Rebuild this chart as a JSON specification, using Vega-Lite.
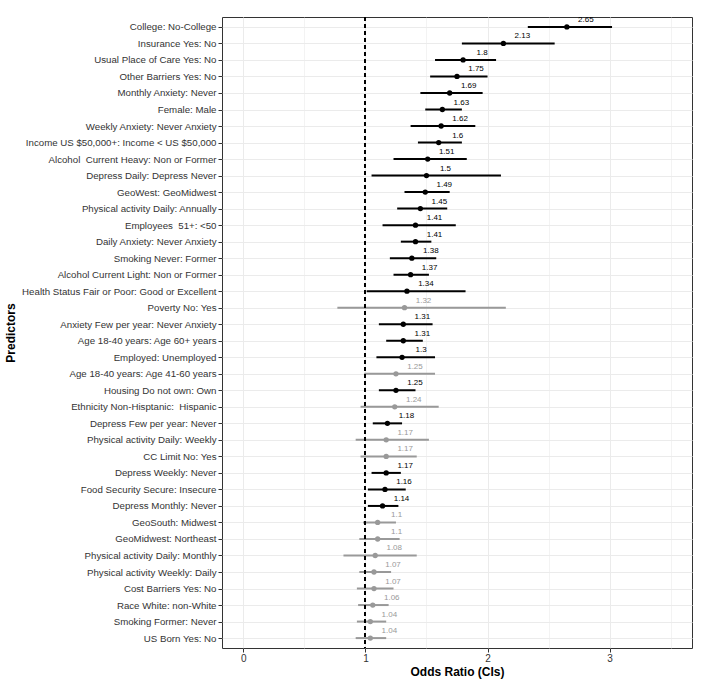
{
  "$schema": "https://vega.github.io/schema/vega-lite/v6.json",
  "autosize": "none",
  "width": 470,
  "height": 631,
  "padding": {"left": 222, "top": 17, "right": 21, "bottom": 32},
  "background": "white",
  "config": {
    "font": "Liberation Sans",
    "view": {"stroke": "#333333", "strokeWidth": 1},
    "axis": {"domain": false, "labelFont": "Liberation Sans", "titleFont": "Liberation Sans"}
  },
  "data": {"values": [
    {"pred": "College: No-College", "or": 2.65, "lo": 2.33, "hi": 3.02, "sig": "sig"},
    {"pred": "Insurance Yes: No", "or": 2.13, "lo": 1.79, "hi": 2.55, "sig": "sig"},
    {"pred": "Usual Place of Care Yes: No", "or": 1.8, "lo": 1.57, "hi": 2.07, "sig": "sig"},
    {"pred": "Other Barriers Yes: No", "or": 1.75, "lo": 1.53, "hi": 2.0, "sig": "sig"},
    {"pred": "Monthly Anxiety: Never\u00a0", "or": 1.69, "lo": 1.45, "hi": 1.96, "sig": "sig"},
    {"pred": "Female: Male", "or": 1.63, "lo": 1.49, "hi": 1.79, "sig": "sig"},
    {"pred": "Weekly Anxiety: Never Anxiety\u00a0", "or": 1.62, "lo": 1.37, "hi": 1.9, "sig": "sig"},
    {"pred": "Income US $50,000+: Income < US $50,000", "or": 1.6, "lo": 1.43, "hi": 1.79, "sig": "sig"},
    {"pred": "Alcohol\u00a0 Current Heavy: Non or Former", "or": 1.51, "lo": 1.23, "hi": 1.83, "sig": "sig"},
    {"pred": "Depress Daily: Depress Never", "or": 1.5, "lo": 1.05, "hi": 2.11, "sig": "sig"},
    {"pred": "GeoWest: GeoMidwest", "or": 1.49, "lo": 1.32, "hi": 1.69, "sig": "sig"},
    {"pred": "Physical activity Daily: Annually", "or": 1.45, "lo": 1.26, "hi": 1.67, "sig": "sig"},
    {"pred": "Employees\u00a0 51+: <50", "or": 1.41, "lo": 1.14, "hi": 1.74, "sig": "sig"},
    {"pred": "Daily Anxiety: Never Anxiety", "or": 1.41, "lo": 1.29, "hi": 1.54, "sig": "sig"},
    {"pred": "Smoking Never: Former", "or": 1.38, "lo": 1.2, "hi": 1.58, "sig": "sig"},
    {"pred": "Alcohol Current Light: Non or Former", "or": 1.37, "lo": 1.23, "hi": 1.52, "sig": "sig"},
    {"pred": "Health Status Fair or Poor: Good or Excellent", "or": 1.34, "lo": 1.01, "hi": 1.82, "sig": "sig"},
    {"pred": "Poverty No: Yes", "or": 1.32, "lo": 0.77, "hi": 2.15, "sig": "ns"},
    {"pred": "Anxiety Few per year: Never Anxiety", "or": 1.31, "lo": 1.11, "hi": 1.55, "sig": "sig"},
    {"pred": "Age 18-40 years: Age 60+ years", "or": 1.31, "lo": 1.17, "hi": 1.47, "sig": "sig"},
    {"pred": "Employed: Unemployed", "or": 1.3, "lo": 1.09, "hi": 1.57, "sig": "sig"},
    {"pred": "Age 18-40 years: Age 41-60 years", "or": 1.25, "lo": 0.99, "hi": 1.57, "sig": "ns"},
    {"pred": "Housing Do not own: Own", "or": 1.25, "lo": 1.11, "hi": 1.41, "sig": "sig"},
    {"pred": "Ethnicity Non-Hisptanic:\u00a0 Hispanic", "or": 1.24, "lo": 0.96, "hi": 1.6, "sig": "ns"},
    {"pred": "Depress Few per year: Never", "or": 1.18, "lo": 1.06, "hi": 1.3, "sig": "sig"},
    {"pred": "Physical activity Daily: Weekly", "or": 1.17, "lo": 0.92, "hi": 1.52, "sig": "ns"},
    {"pred": "CC Limit No: Yes", "or": 1.17, "lo": 0.96, "hi": 1.42, "sig": "ns"},
    {"pred": "Depress Weekly: Never", "or": 1.17, "lo": 1.05, "hi": 1.29, "sig": "sig"},
    {"pred": "Food Security Secure: Insecure", "or": 1.16, "lo": 1.02, "hi": 1.33, "sig": "sig"},
    {"pred": "Depress Monthly: Never", "or": 1.14, "lo": 1.02, "hi": 1.27, "sig": "sig"},
    {"pred": "GeoSouth: Midwest", "or": 1.1, "lo": 0.98, "hi": 1.25, "sig": "ns"},
    {"pred": "GeoMidwest: Northeast", "or": 1.1, "lo": 0.95, "hi": 1.28, "sig": "ns"},
    {"pred": "Physical activity Daily: Monthly\u00a0", "or": 1.08, "lo": 0.82, "hi": 1.42, "sig": "ns"},
    {"pred": "Physical activity Weekly: Daily\u00a0", "or": 1.07, "lo": 0.95, "hi": 1.21, "sig": "ns"},
    {"pred": "Cost Barriers Yes: No", "or": 1.07, "lo": 0.93, "hi": 1.23, "sig": "ns"},
    {"pred": "Race White: non-White", "or": 1.06, "lo": 0.94, "hi": 1.19, "sig": "ns"},
    {"pred": "Smoking Former: Never", "or": 1.04, "lo": 0.93, "hi": 1.17, "sig": "ns"},
    {"pred": "US Born Yes: No\u00a0", "or": 1.04, "lo": 0.92, "hi": 1.17, "sig": "ns"}
  ]},
  "encoding": {
    "y": {
      "field": "pred", "type": "nominal", "sort": null,
      "scale": {"type": "point", "padding": 0.6},
      "axis": {
        "title": "Predictors", "titleFontSize": 12, "titleFontWeight": "bold", "titleColor": "#000000", "titlePadding": 5,
        "labelFontSize": 9.7, "labelColor": "#333333", "labelPadding": 2, "labelLimit": 0,
        "tickSize": 4, "tickColor": "#333333",
        "grid": true, "gridColor": "#ebebeb", "gridWidth": 1
      }
    },
    "color": {
      "field": "sig", "type": "nominal", "legend": null,
      "scale": {"domain": ["sig", "ns"], "range": ["#000000", "#999999"]}
    }
  },
  "layer": [
    {
      "mark": {"type": "rule", "strokeWidth": 2},
      "encoding": {
        "x": {
          "field": "lo", "type": "quantitative",
          "scale": {"domain": [-0.175, 3.675], "nice": false, "zero": false},
          "axis": {
            "title": "Odds Ratio (CIs)", "titleFontSize": 12, "titleFontWeight": "bold", "titleColor": "#000000", "titlePadding": 3,
            "values": [0, 0.5, 1, 1.5, 2, 2.5, 3, 3.5],
            "labelExpr": "datum.value % 1 === 0 ? format(datum.value, 'd') : ''",
            "labelFontSize": 10, "labelColor": "#333333", "labelPadding": 1, "labelFlush": false,
            "tickSize": 4, "tickColor": "#333333",
            "tickOpacity": {"condition": {"test": "datum.value % 1 === 0", "value": 1}, "value": 0},
            "grid": true, "gridColor": "#ebebeb",
            "gridWidth": {"condition": {"test": "datum.value % 1 === 0", "value": 1}, "value": 0.6}
          }
        },
        "x2": {"field": "hi"}
      }
    },
    {
      "mark": {"type": "point", "filled": true, "opacity": 1, "size": 28},
      "encoding": {"x": {"field": "or", "type": "quantitative"}}
    },
    {
      "mark": {"type": "rule", "strokeDash": [4, 3], "strokeWidth": 1.1, "color": "#000000"},
      "encoding": {"x": {"datum": 1}, "color": {"value": "#000000"}, "y": {"value": 0}, "y2": {"value": 631}}
    },
    {
      "mark": {"type": "text", "fontSize": 8, "dx": 19, "dy": -7, "align": "center", "baseline": "middle"},
      "encoding": {"x": {"field": "or", "type": "quantitative"}, "text": {"field": "or", "type": "quantitative"}}
    }
  ]
}
